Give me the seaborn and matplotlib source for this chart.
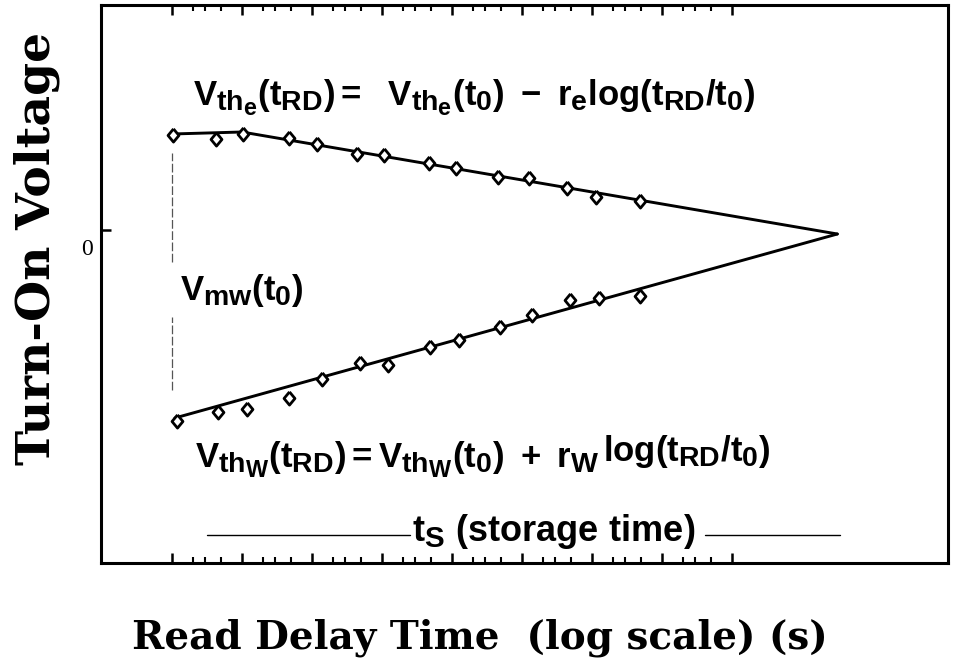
import matplotlib
matplotlib.use("Agg")
import matplotlib.pyplot as plt
import matplotlib._mathtext as mathtext_core
import seaborn as sns
import pandas as pd
from matplotlib.transforms import ScaledTranslation
from matplotlib.ticker import FixedLocator, NullFormatter

# Read delay times (s) and measured turn-on voltages (arbitrary units, 0 = reference)
t_erased = [1.03, 4.3, 10.3, 47, 118, 440, 1070, 4700, 11400, 45000, 1.26e5, 4.4e5, 1.14e6, 4.85e6]
v_erased = [0.95, 0.91, 0.96, 0.92, 0.86, 0.76, 0.75, 0.67, 0.62, 0.53, 0.52, 0.42, 0.33, 0.29]

t_written = [1.18, 4.5, 11.8, 47, 139, 485, 1220, 4850, 12600, 48500, 1.39e5, 4.85e5, 1.26e6, 4.85e6]
v_written = [-1.91, -1.82, -1.79, -1.68, -1.49, -1.33, -1.35, -1.17, -1.10, -0.97, -0.85, -0.70, -0.68, -0.66]

# Retention fit lines, extrapolated to where the two states meet
fit_t_erased = [1.0, 10.0, 3.2e9]
fit_v_erased = [0.96, 0.98, -0.04]
fit_t_written = [1.1, 3.2e9]
fit_v_written = [-1.88, -0.04]

# Memory-window marker at t0
t0 = 1.0
window_segments = [(0.77, -0.32), (-0.87, -1.60)]

y_ticks = [0]
y_tick_labels = ["0"]
x_decades = [10.0 ** k for k in range(0, 9)]

sns.set_theme(style="white")
plt.rcParams.update({
    "text.color": "black",
    "axes.labelcolor": "black",
    "xtick.color": "black",
    "ytick.color": "black",
    "mathtext.fontset": "custom",
    "mathtext.rm": "Liberation Sans:bold",
    "mathtext.it": "Liberation Sans:bold",
    "mathtext.bf": "Liberation Sans:bold",
    "mathtext.sf": "Liberation Sans:bold",
})
# larger sub/superscripts for the formula annotations
mathtext_core.SHRINK_FACTOR = 0.82

fig = plt.figure(figsize=(9.55, 6.66), dpi=100)
ax = fig.add_axes([101 / 955, (666 - 563) / 666, 847 / 955, 558 / 666])
ax.set_xscale("log")

erased = pd.DataFrame({"t": t_erased, "v": v_erased})
written = pd.DataFrame({"t": t_written, "v": v_written})
fit_e = pd.DataFrame({"t": fit_t_erased, "v": fit_v_erased})
fit_w = pd.DataFrame({"t": fit_t_written, "v": fit_v_written})

for fit in (fit_e, fit_w):
    sns.lineplot(data=fit, x="t", y="v", color="black", linewidth=2.1,
                 estimator=None, sort=False, ax=ax)

diamond = [(0, 1), (0.83, 0), (0, -1), (-0.83, 0), (0, 1)]
for pts in (erased, written):
    sns.scatterplot(data=pts, x="t", y="v", marker=diamond, s=90,
                    facecolor="white", edgecolor="black", linewidth=2.0,
                    ax=ax, zorder=3)

for top, bottom in window_segments:
    ax.plot([t0, t0], [bottom, top], color="#555555", linewidth=0.9,
            dashes=(7, 2))

ax.set_xlim(10 ** -1.014, 10 ** 11.086)
ax.set_ylim(-3.33, 2.25)

# Axis frame and ticks
for s in ax.spines.values():
    s.set_linewidth(2.2)
    s.set_color("black")
ax.xaxis.set_major_locator(FixedLocator(x_decades))
minor = [m * d for d in x_decades[:-1] for m in (2, 3, 5)]
ax.xaxis.set_minor_locator(FixedLocator(minor))
ax.xaxis.set_major_formatter(NullFormatter())
ax.xaxis.set_minor_formatter(NullFormatter())
ax.tick_params(axis="x", which="major", direction="in", length=7, width=1.8,
               top=True, bottom=True)
ax.tick_params(axis="x", which="minor", direction="in", length=4, width=1.5,
               top=True, bottom=True)
ax.set_yticks(y_ticks)
ax.set_yticklabels(y_tick_labels, fontfamily="Liberation Serif", fontsize=17)
ax.tick_params(axis="y", direction="in", length=7, width=1.8, left=True,
               right=False, pad=6)
for lab in ax.get_yticklabels():
    lab.set_transform(lab.get_transform() +
                      ScaledTranslation(0, -0.17, fig.dpi_scale_trans))

ax.set_xlabel("Read Delay Time  (log scale) (s)", fontfamily="DejaVu Serif",
              fontweight="bold", fontsize=28)
ax.xaxis.set_label_coords((480 - 101) / 847, (563 - 638) / 558)
ax.xaxis.label.set_va("center")
ax.set_ylabel("Turn-On Voltage", fontfamily="DejaVu Serif",
              fontweight="bold", fontsize=34)
ax.yaxis.set_label_coords((37 - 101) / 847, (563 - 248) / 558)
ax.yaxis.label.set_va("center")


def fx(px):
    return (px - 101) / 847


def fy(py):
    return (563 - py) / 558


tr = ax.transAxes
ax.text(fx(193), fy(106), r"$V_{th_e}(t_{RD})=\ \ V_{th_e}(t_0)\ -\ r_e\log(t_{RD}/t_0)$",
        transform=tr, fontsize=25, va="baseline", ha="left")
ax.text(fx(180), fy(300), r"$V_{mw}(t_0)$",
        transform=tr, fontsize=25, va="baseline", ha="left")
ax.text(fx(195), fy(468), r"$V_{th_W}(t_{RD})=V_{th_W}(t_0)\ +\ r_W$",
        transform=tr, fontsize=25, va="baseline", ha="left")
ax.text(fx(603), fy(461), r"$\log(t_{RD}/t_0)$",
        transform=tr, fontsize=25, va="baseline", ha="left")

# Storage-time span
ax.text(fx(412), fy(541), r"$t_S\ (storage\ time)$", transform=tr,
        fontsize=26, va="baseline", ha="left")
ax.plot([fx(207), fx(410)], [fy(535), fy(535)], transform=tr,
        color="black", linewidth=1.0)
ax.plot([fx(705), fx(840)], [fy(535), fy(535)], transform=tr,
        color="black", linewidth=1.0)

fig.savefig("out.png", dpi=100)
